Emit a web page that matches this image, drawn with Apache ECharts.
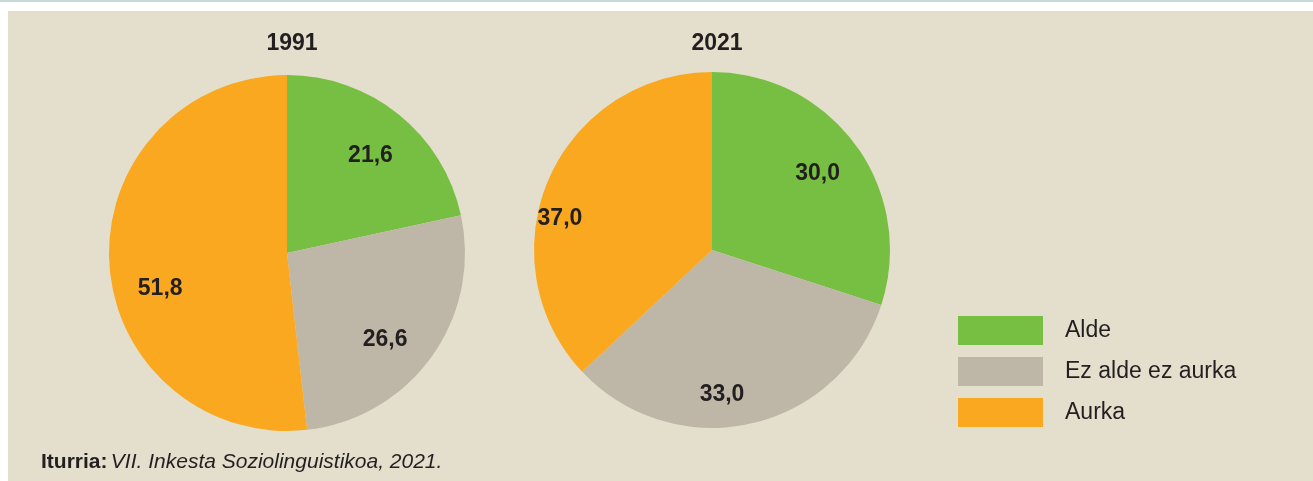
<!DOCTYPE html>
<html>
<head>
<meta charset="utf-8">
<script src="https://cdn.jsdelivr.net/npm/echarts@6/dist/echarts.min.js"></script>
<style>
html,body{margin:0;padding:0;background:#fff;}
#c{width:1313px;height:481px;}
</style>
</head>
<body>
<div id="c"></div>
<script>
const categories = ['Alde', 'Ez alde ez aurka', 'Aurka'];
const years = ['1991', '2021'];
const values1991 = [21.6, 26.6, 51.8];
const values2021 = [30.0, 33.0, 37.0];
const sourceLabel = 'Iturria:';
const sourceText = 'VII. Inkesta Soziolinguistikoa, 2021.';

// styling / layout
const colors = ['#76BF43', '#BEB7A7', '#F9A81F'];
const textColor = '#231F20';
const font = '"Liberation Sans", Arial, sans-serif';
const centers = [[287, 253], [712, 250]];
const R = 178;
const labelNudges = [
  [[0, 6], [-10, 9], [6, 28]],
  [[-2, 2], [-19, 15], [-30, 21]]
];

function fmt(v) { return v.toFixed(1).replace('.', ','); }

const allValues = [values1991, values2021];
const series = [];
allValues.forEach((vals, i) => {
  const data = categories.map((c, k) => ({ name: c, value: vals[k], itemStyle: { color: colors[k] } }));
  series.push({
    type: 'pie', center: centers[i], radius: [0, R], startAngle: 90, clockwise: true,
    label: { show: false }, labelLine: { show: false }, silent: true,
    itemStyle: { borderWidth: 0 }, data: data
  });
  series.push({
    type: 'pie', center: centers[i], radius: [82, R], startAngle: 90, clockwise: true,
    silent: true, legendHoverLink: false,
    itemStyle: { color: 'rgba(0,0,0,0)', borderWidth: 0 },
    label: {
      show: true, position: 'inside', formatter: p => fmt(p.value),
      fontFamily: font, fontWeight: 'bold', fontSize: 23, color: textColor
    },
    labelLine: { show: false },
    data: categories.map((c, k) => ({ name: c + ' ', value: vals[k], label: { offset: labelNudges[i][k] } }))
  });
});

const chart = echarts.init(document.getElementById('c'));
chart.setOption({
  backgroundColor: '#ffffff',
  animation: false,
  color: colors,
  title: years.map((y, i) => ({
    text: y, left: centers[i][0], top: 27, textAlign: 'center',
    textStyle: { fontFamily: font, fontWeight: 'bold', fontSize: 23, color: textColor }
  })),
  legend: {
    data: categories, orient: 'vertical', left: 953, top: 311,
    itemWidth: 85, itemHeight: 29, itemGap: 12, icon: 'rect',
    selectedMode: false,
    textStyle: { fontFamily: font, fontSize: 23, color: textColor, padding: [0, 0, 0, 17] }
  },
  graphic: [
    { type: 'rect', z: -10, shape: { x: 0, y: 0, width: 1313, height: 2 }, style: { fill: '#C8DAD5' }, silent: true },
    { type: 'rect', z: -10, shape: { x: 8, y: 11, width: 1305, height: 470 }, style: { fill: '#E4DECC' }, silent: true },
    {
      type: 'text', left: 41, top: 452, silent: true,
      style: {
        text: '{b|' + sourceLabel + '} {i|' + sourceText + '}',
        rich: {
          b: { fontFamily: font, fontWeight: 'bold', fontSize: 21, fill: textColor },
          i: { fontFamily: font, fontStyle: 'italic', fontSize: 21, fill: textColor }
        }
      }
    }
  ],
  series: series
});
</script>
</body>
</html>
